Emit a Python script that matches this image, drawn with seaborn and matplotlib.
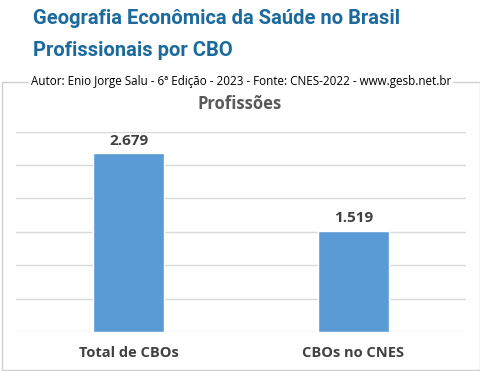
import numpy as np
import pandas as pd
import matplotlib
matplotlib.use("Agg")
import matplotlib.pyplot as plt
import seaborn as sns
from matplotlib.patches import Rectangle

categorias = ["Total de CBOs", "CBOs no CNES"]
valores = [2679, 1519]
rotulos = ["2.679", "1.519"]

titulo1 = "Geografia Econômica da Saúde no Brasil"
titulo2 = "Profissionais por CBO"
autor = "Autor: Enio Jorge Salu - 6ª Edição - 2023 - Fonte: CNES-2022 - www.gesb.net.br"
titulo_grafico = "Profissões"

sns.set_theme(style="white")
plt.rcParams['font.family'] = ['Open Sans', 'DejaVu Sans']

df = pd.DataFrame({"cat": categorias, "val": valores})

fig = plt.figure(figsize=(4.81, 3.71), dpi=100)
W, H = 481, 371

# borda cinza do grafico
fig.patches.append(Rectangle((2 / W, 1 - 370 / H), 478 / W, 288 / H, transform=fig.transFigure,
                             fill=False, edgecolor="#d0d0d0", linewidth=1.0))

ax = fig.add_axes([16 / W, 1 - 332 / H, 450 / W, 200.3 / H])
sns.barplot(data=df, x="cat", y="val", color="#5b9bd5", width=0.313, saturation=1, ax=ax)
ax.set_ylim(0, 3000)
ax.set_xlim(-0.5, 1.5)
ax.set_yticks(np.arange(0, 3001, 500))
ax.yaxis.grid(True, color="#d9d9d9", linewidth=1)
ax.set_axisbelow(True)
ax.tick_params(axis="y", left=False, labelleft=False)
ax.tick_params(axis="x", bottom=False, labelsize=10.5, colors="#404040", pad=4)
for lbl in ax.get_xticklabels():
    lbl.set_fontweight("bold")
ax.set_xlabel("")
ax.set_ylabel("")
for s in ax.spines.values():
    s.set_visible(False)

for i, (v, r) in enumerate(zip(valores, rotulos)):
    ax.annotate(r, (i, v), xytext=(0, 4), textcoords="offset points", ha="center", va="bottom",
                fontsize=11, fontweight="bold", color="#404040")

fonte_titulo = ["Roboto", "DejaVu Sans"]
fig.text(33 / W, 1 - 24 / H, titulo1, fontsize=14.5, fontweight="bold", color="#1c6a9c",
         family=fonte_titulo, va="baseline", ha="left")
fig.text(33 / W, 1 - 56 / H, titulo2, fontsize=14.5, fontweight="bold", color="#1c6a9c",
         family=fonte_titulo, va="baseline", ha="left")
fig.text(241 / W, 1 - 81 / H, autor, fontsize=8.4, color="#000000", va="center", ha="center",
         bbox=dict(facecolor="white", edgecolor="none", pad=1.5))
fig.text(240 / W, 1 - 104 / H, titulo_grafico, fontsize=12, fontweight="bold", color="#595959",
         va="center", ha="center")

fig.savefig("out.png", dpi=100)
